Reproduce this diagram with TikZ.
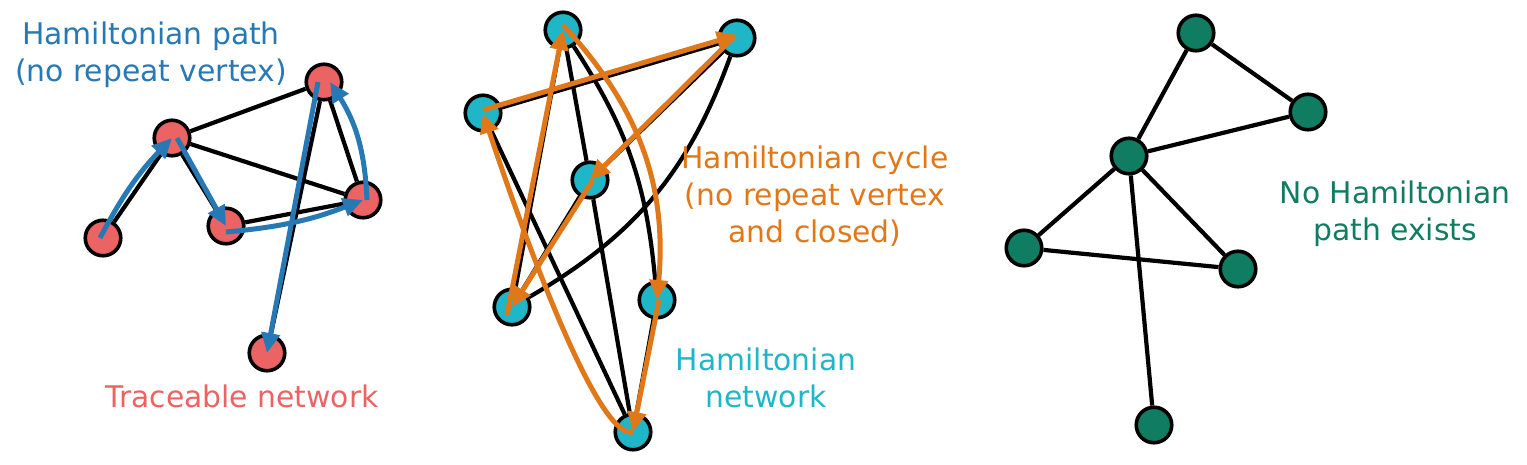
\documentclass[tikz,border=0pt]{standalone}
\usepackage{fontspec}
\setmainfont{DejaVu Sans}
\usetikzlibrary{positioning,backgrounds,arrows.meta}
\definecolor{tracered}{RGB}{236,99,99}
\definecolor{pathblue}{RGB}{38,121,180}
\definecolor{cycleorange}{RGB}{224,120,26}
\definecolor{hamteal}{RGB}{31,182,200}
\definecolor{nopathgreen}{RGB}{16,124,98}

\begin{document}
\begin{tikzpicture}[x=1pt, y=-1pt,
            vertex/.style={circle, draw=black, line width=3.6pt,
                minimum size=35.5pt, inner sep=0pt},
            link/.style={draw=black, line width=4.2pt},
            walk/.style={line width=5pt, -{Triangle[length=20pt,width=18pt]}},
            notetext/.style={font=\fontsize{29.8}{37}\selectfont,
                align=center, inner sep=0pt},
        ]
            \useasboundingbox (0,0) rectangle (1527,464);

            % traceable network
            \node [vertex, fill=tracered] (red1) at (103,238) {};
            \node [vertex, fill=tracered] (red2) at (172,138) {};
            \node [vertex, fill=tracered] (red3) at (226,226) {};
            \node [vertex, fill=tracered] (red4) at (324,82)  {};
            \node [vertex, fill=tracered] (red5) at (363,200) {};
            \node [vertex, fill=tracered] (red6) at (267,353) {};

            % hamiltonian network
            \node [vertex, fill=hamteal] (teal1) at (563,30)  {};
            \node [vertex, fill=hamteal] (teal2) at (737,38)  {};
            \node [vertex, fill=hamteal] (teal3) at (483,113) {};
            \node [vertex, fill=hamteal] (teal4) at (590,180) {};
            \node [vertex, fill=hamteal] (teal5) at (512,307) {};
            \node [vertex, fill=hamteal] (teal6) at (657,300) {};
            \node [vertex, fill=hamteal] (teal7) at (633,432) {};

            % no hamiltonian path
            \node [vertex, fill=nopathgreen] (green1) at (1196,33)  {};
            \node [vertex, fill=nopathgreen] (green2) at (1308,112) {};
            \node [vertex, fill=nopathgreen] (green3) at (1129,156) {};
            \node [vertex, fill=nopathgreen] (green4) at (1024,248) {};
            \node [vertex, fill=nopathgreen] (green5) at (1238,269) {};
            \node [vertex, fill=nopathgreen] (green6) at (1154,425) {};

            \begin{scope}[on background layer]
                \draw[link] (red1) -- (red2);
                \draw[link] (red2) -- (red4);
                \draw[link] (red2) -- (red3);
                \draw[link] (red2) -- (red5);
                \draw[link] (red3) -- (red5);
                \draw[link] (red4) -- (red5);
                \draw[link] (red4) -- (red6);

                \draw[link] (teal3) -- (teal2);
                \draw[link] (teal2) -- (teal4);
                \draw[link] (teal4) -- (teal5);
                \draw[link] (teal5) -- (teal1);
                \draw[link] (teal1) to[bend left=14] (teal6);
                \draw[link] (teal6) -- (teal7);
                \draw[link] (teal7) -- (teal3);
                \draw[link] (teal1) -- (teal4);
                \draw[link] (teal4) -- (teal7);
                \draw[link] (teal2) to[bend left=20] (teal5);

                \draw[link] (green1) -- (green2);
                \draw[link] (green1) -- (green3);
                \draw[link] (green3) -- (green2);
                \draw[link] (green3) -- (green4);
                \draw[link] (green3) -- (green5);
                \draw[link] (green3) -- (green6);
                \draw[link] (green4) -- (green5);
            \end{scope}

            % hamiltonian path
            \draw[walk, pathblue] ([xshift=-3pt]red1.center) to[bend left=8] (red2.center);
            \draw[walk, pathblue] ([xshift=5pt]red2.center) -- (red3.center);
            \draw[walk, pathblue] ([yshift=-6pt]red3.center) to[bend right=8] (red5.center);
            \draw[walk, pathblue] ([xshift=4pt]red5.center) to[bend right=15] ([xshift=6pt]red4.center);
            \draw[walk, pathblue] ([xshift=-6pt]red4.center) -- (red6.center);

            % hamiltonian cycle
            \draw[walk, cycleorange] ([yshift=3pt]teal3.center) -- ([yshift=3pt]teal2.center);
            \draw[walk, cycleorange] ([xshift=-2pt,yshift=2pt]teal2.center) -- (teal4.center);
            \draw[walk, cycleorange] ([xshift=3pt]teal4.center) -- (teal5.center);
            \draw[walk, cycleorange] ([xshift=-5pt,yshift=-8pt]teal5.center) -- (teal1.center);
            \draw[walk, cycleorange] ([yshift=5pt]teal1.center) to[bend left=24] (teal6.center);
            \draw[walk, cycleorange] ([xshift=2pt]teal6.center) -- (teal7.center);
            \draw[walk, cycleorange] (teal7.center) .. controls ([xshift=-40pt,yshift=-10pt]teal7.center)
                and ([xshift=20pt,yshift=-60pt]teal3.center) .. (teal3.center);

            % labels
            \node [notetext, text=pathblue, anchor=north] (pathtext) at (151,22)
                {Hamiltonian path\\(no repeat vertex)};
            \node [notetext, text=tracered, anchor=base] (tracetext) at (242,407)
                {Traceable network};
            \node [notetext, text=cycleorange, anchor=north] (cycletext) at (815,146)
                {Hamiltonian cycle\\(no repeat vertex\\and closed)};
            \node [notetext, text=hamteal, anchor=north] (hamtext) at (766,348)
                {Hamiltonian\\network};
            \node [notetext, text=nopathgreen, anchor=north] (nopathtext) at (1395,181)
                {No Hamiltonian\\path exists};

        \end{tikzpicture}
\end{document}
